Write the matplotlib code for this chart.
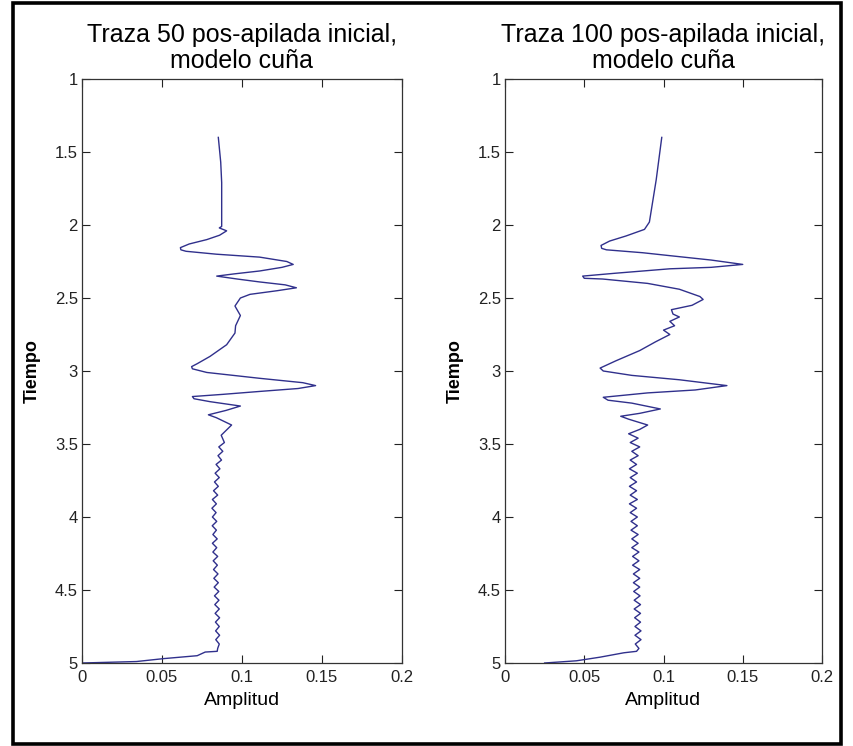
import matplotlib
matplotlib.use("Agg")
import matplotlib.pyplot as plt
from matplotlib.patches import Rectangle

plt.rcParams['font.family'] = ['Liberation Sans', 'DejaVu Sans']

# traza 50 (tiempo, amplitud)
t50 = [1.40, 1.57, 1.71, 2.01, 2.02, 2.04, 2.07, 2.10, 2.13, 2.155, 2.17, 2.18, 2.20, 2.22, 2.25,
       2.27, 2.29, 2.315, 2.335, 2.35, 2.37, 2.39, 2.41, 2.43, 2.45, 2.475, 2.50,
       2.555, 2.62, 2.69, 2.74, 2.82, 2.90, 2.95, 2.97, 2.985, 3.01, 3.05, 3.08, 3.10,
       3.12, 3.14, 3.16, 3.175, 3.19, 3.21, 3.24, 3.27, 3.30, 3.32, 3.37, 3.44, 3.49,
       3.52, 3.55, 3.58, 3.61, 3.64, 3.67, 3.70, 3.73, 3.76, 3.79, 3.82, 3.85,
       3.88, 3.91, 3.94, 3.97, 4.00, 4.03, 4.06, 4.09, 4.12, 4.15, 4.18, 4.21,
       4.24, 4.27, 4.30, 4.33, 4.36, 4.39, 4.42, 4.45, 4.48, 4.51, 4.54, 4.57,
       4.60, 4.63, 4.66, 4.69, 4.72, 4.75, 4.78, 4.81, 4.84, 4.87, 4.90,
       4.92, 4.925, 4.95, 4.97, 4.99, 5.0]
a50 = [0.0852, 0.0867, 0.0873, 0.0873, 0.0858, 0.0904, 0.0860, 0.0780, 0.0670, 0.0615, 0.0618, 0.0650, 0.084, 0.111, 0.128,
       0.132, 0.125, 0.111, 0.095, 0.0842, 0.097, 0.111, 0.127, 0.134, 0.122, 0.105, 0.099,
       0.0956, 0.099, 0.096, 0.0956, 0.0904, 0.080, 0.0720, 0.0685, 0.0690, 0.078, 0.111, 0.138, 0.146,
       0.135, 0.111, 0.088, 0.0690, 0.0700, 0.080, 0.099, 0.090, 0.079, 0.084, 0.0935, 0.087, 0.089,
       0.0855, 0.0880, 0.0850, 0.0872, 0.0838, 0.0862, 0.0832, 0.0858, 0.0828, 0.0852, 0.0822, 0.0848,
       0.0815, 0.0840, 0.0812, 0.0838, 0.0815, 0.0842, 0.0814, 0.0840, 0.0818, 0.0845, 0.0815, 0.0842,
       0.0818, 0.0848, 0.0820, 0.0846, 0.0822, 0.0850, 0.0824, 0.0852, 0.0826, 0.0855, 0.0828, 0.0856,
       0.0830, 0.0858, 0.0832, 0.0860, 0.0834, 0.0858, 0.0835, 0.0860, 0.0836, 0.0858, 0.0848,
       0.0845, 0.077, 0.072, 0.051, 0.034, 0.0]

# traza 100 (tiempo, amplitud)
t100 = [1.40, 1.69, 1.98, 2.03, 2.075, 2.11, 2.14, 2.16, 2.17, 2.19, 2.21, 2.24, 2.27, 2.29,
        2.30, 2.33, 2.35, 2.365, 2.37, 2.40, 2.44, 2.49, 2.51, 2.55, 2.58, 2.61, 2.63,
        2.66, 2.69, 2.72, 2.75, 2.80, 2.86, 2.93, 2.98, 3.00, 3.03, 3.06, 3.10,
        3.13, 3.15, 3.18, 3.20, 3.22, 3.26, 3.29, 3.31, 3.33, 3.37, 3.40, 3.43,
        3.46, 3.49, 3.52, 3.55, 3.58, 3.61, 3.64, 3.67, 3.70, 3.73, 3.76, 3.79,
        3.82, 3.85, 3.88, 3.91, 3.94, 3.97, 4.00, 4.03, 4.06, 4.09, 4.12, 4.15,
        4.18, 4.21, 4.24, 4.27, 4.30, 4.33, 4.36, 4.39, 4.42, 4.45, 4.48, 4.51,
        4.54, 4.57, 4.60, 4.63, 4.66, 4.69, 4.72, 4.75, 4.78, 4.81, 4.84, 4.87,
        4.90, 4.92, 4.93, 4.96, 4.985, 5.0]
a100 = [0.0989, 0.0954, 0.0911, 0.088, 0.0764, 0.0660, 0.0606, 0.0610, 0.0640, 0.0869, 0.104, 0.130, 0.150, 0.130,
        0.104, 0.070, 0.049, 0.0500, 0.0616, 0.090, 0.110, 0.123, 0.125, 0.118, 0.105, 0.106, 0.110,
        0.104, 0.107, 0.100, 0.104, 0.095, 0.085, 0.070, 0.060, 0.062, 0.080, 0.110, 0.140,
        0.120, 0.090, 0.062, 0.065, 0.080, 0.098, 0.085, 0.073, 0.078, 0.090, 0.085, 0.078,
        0.084, 0.079, 0.085, 0.080, 0.084, 0.079, 0.083, 0.0785, 0.0835, 0.079, 0.083, 0.0785,
        0.083, 0.079, 0.0835, 0.0785, 0.083, 0.079, 0.0835, 0.0795, 0.0835, 0.0795, 0.084, 0.080,
        0.084, 0.080, 0.0845, 0.0805, 0.0845, 0.0805, 0.085, 0.081, 0.085, 0.081, 0.085, 0.0812,
        0.0852, 0.0815, 0.0855, 0.0815, 0.0855, 0.0818, 0.0855, 0.082, 0.0858, 0.082, 0.0858, 0.0822,
        0.0845, 0.083, 0.075, 0.060, 0.045, 0.025]

titulos = ["Traza 50 pos-apilada inicial,\nmodelo cuña",
           "Traza 100 pos-apilada inicial,\nmodelo cuña"]
yticks = [1, 1.5, 2, 2.5, 3, 3.5, 4, 4.5, 5]
xticks = [0, 0.05, 0.1, 0.15, 0.2]
xticklabels = ["0", "0.05", "0.1", "0.15", "0.2"]
yticklabels = ["1", "1.5", "2", "2.5", "3", "3.5", "4", "4.5", "5"]

W, H = 854, 746
fig = plt.figure(figsize=(W / 100, H / 100), dpi=100)
fig.patch.set_facecolor('white')

# marco negro alrededor de la figura
fig.patches.append(Rectangle((13 / W, 2 / H), 828 / W, 741 / H, transform=fig.transFigure,
                             fill=False, edgecolor='black', linewidth=2.6))

ax1 = fig.add_axes([82 / W, 83 / H, 320 / W, 584 / H])
ax2 = fig.add_axes([505 / W, 83 / H, 317 / W, 584 / H])

for ax, t, a, tit in [(ax1, t50, a50, titulos[0]), (ax2, t100, a100, titulos[1])]:
    ax.plot(a, t, color='#30308c', linewidth=1.0)
    ax.set_xlim(0, 0.2)
    ax.set_ylim(5, 1)
    ax.set_xticks(xticks)
    ax.set_xticklabels(xticklabels)
    ax.set_yticks(yticks)
    ax.set_yticklabels(yticklabels)
    ax.tick_params(direction='in', length=6, width=0.8, top=True, right=True,
                   labelsize=12, colors='#222222')
    ax.tick_params(axis='x', pad=5)
    ax.tick_params(axis='y', pad=3)
    for s in ax.spines.values():
        s.set_color('#333333')
        s.set_linewidth(0.9)
    ax.set_title(tit, fontsize=18, pad=8, linespacing=1.1)
    ax.set_ylabel("Tiempo", fontsize=13, fontweight='bold', labelpad=10)
    ax.set_xlabel("Amplitud", fontsize=14, labelpad=5)

fig.savefig("out.png", dpi=100)
